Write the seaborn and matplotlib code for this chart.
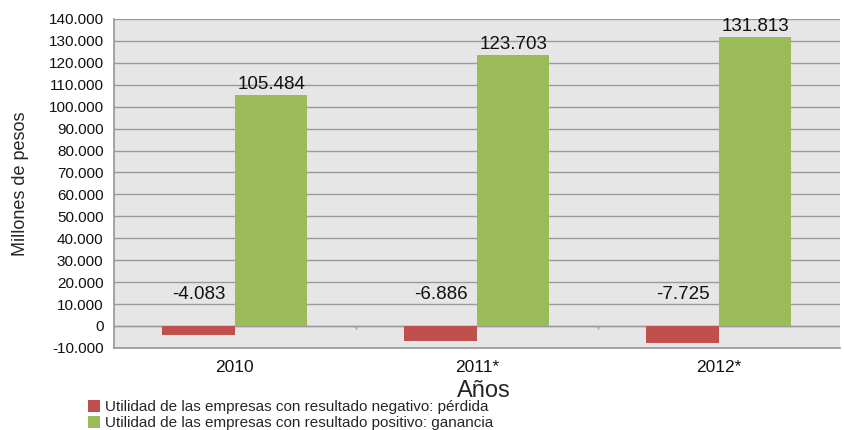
import pandas as pd
import numpy as np
import matplotlib.pyplot as plt
import seaborn as sns

sns.set_theme(style="white")
plt.rcParams['font.family'] = ['Liberation Sans', 'DejaVu Sans']

YEARS = ["2010", "2011*", "2012*"]
PERDIDA = [-4083, -6886, -7725]
GANANCIA = [105484, 123703, 131813]
SERIES = [
    "Utilidad de las empresas con resultado negativo: pérdida",
    "Utilidad de las empresas con resultado positivo: ganancia",
]
COLORS = ["#C0504D", "#9BBB59"]

df = pd.DataFrame({
    "year": YEARS * 2,
    "value": PERDIDA + GANANCIA,
    "serie": [SERIES[0]] * len(YEARS) + [SERIES[1]] * len(YEARS),
})

def fmt(v):
    return f"{v:,.0f}".replace(",", ".")

fig = plt.figure(figsize=(8.44, 4.30), dpi=100)
ax = fig.add_axes([0.135, 0.191, 0.86, 0.765])
ax.set_facecolor("#e6e6e6")

sns.barplot(data=df, x="year", y="value", hue="serie", palette=COLORS,
            width=0.6, saturation=1, linewidth=0, ax=ax, zorder=3)

ticks = np.arange(-10000, 140001, 10000)
ax.set_ylim(-10000, 140000)
ax.set_yticks(ticks)
ax.set_yticklabels([fmt(t) for t in ticks])
ax.yaxis.grid(True, color="#9a9a9a", linewidth=1, zorder=0)
ax.set_axisbelow(True)
ax.set_xlim(-0.5, len(YEARS) - 0.5)
ax.tick_params(axis="x", length=0, pad=9, labelsize=12.5, labelcolor="#111111")
ax.tick_params(axis="y", length=4, color="#9a9a9a", width=1, labelsize=11, labelcolor="#111111")

for s in ["top", "right"]:
    ax.spines[s].set_visible(False)
for s in ["left", "bottom"]:
    ax.spines[s].set_color("#9a9a9a")
ax.axhline(0, color="#9a9a9a", linewidth=1, zorder=2)
ax.vlines(np.arange(len(YEARS) - 1) + 0.5, -1500, 0, color="#9a9a9a", linewidth=1, zorder=2)

# etiquetas de valores
for i, (p, g) in enumerate(zip(PERDIDA, GANANCIA)):
    ax.text(i - 0.15, 14500, fmt(p), ha="center", va="center", fontsize=13.5, color="#111111")
    ax.text(i + 0.15, g + 800, fmt(g), ha="center", va="bottom", fontsize=13.5, color="#111111")

ax.set_ylabel("Millones de pesos", fontsize=13, labelpad=14)
ax.set_xlabel("Años", fontsize=17)
ax.xaxis.set_label_coords(0.51, -0.098)
ax.get_legend().remove()

handles, labels = ax.get_legend_handles_labels()
fig.legend(handles, labels, loc="upper left", bbox_to_anchor=(0.104, 0.069),
           frameon=False, fontsize=11, handlelength=0.8, handleheight=0.8,
           handletextpad=0.35, labelspacing=0.1, borderaxespad=0, borderpad=0)

fig.savefig("out.png", dpi=100)
